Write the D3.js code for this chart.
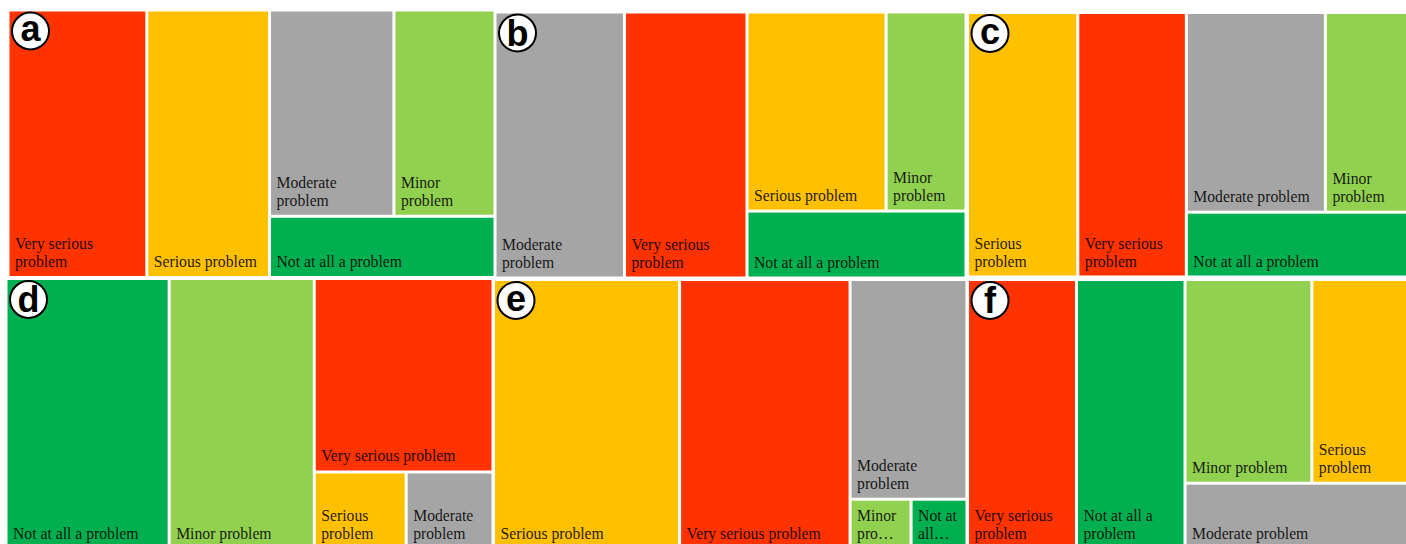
<!DOCTYPE html>
<html>
<head>
<meta charset="utf-8">
<script src="https://cdn.jsdelivr.net/npm/d3@7"></script>
<style>
  body { margin: 0; background: #fff; }
  svg { display: block; }
  .label { font-family: "Liberation Serif", "Times New Roman", serif; font-size: 15.7px; fill: #000; fill-opacity: 0.88; }
  .tag { font-family: "Liberation Sans", Arial, sans-serif; font-weight: bold; font-size: 36px; }
</style>
</head>
<body>
<svg width="1406" height="544"></svg>
<script>
var categories = ['Very serious problem', 'Serious problem', 'Moderate problem', 'Minor problem', 'Not at all a problem'];
var colors = ['#ff3300', '#ffc000', '#a5a5a5', '#92d050', '#00b050'];
var panelNames = ['a', 'b', 'c', 'd', 'e', 'f'];

// share of answers (%) per category, same order as categories
var valuesA = [28.5, 25.2, 19.7, 16.0, 10.6];
var valuesB = [26.0, 22.1, 27.5, 12.7, 11.7];
var valuesC = [24.5, 24.9, 23.7, 14.5, 12.4];
var valuesD = [26.2, 5.4, 5.1, 29.8, 33.5];
var valuesE = [36.0, 39.3, 20.1, 2.4, 2.2];
var valuesF = [24.6, 16.8, 12.5, 21.6, 24.5];
var panelValues = [valuesA, valuesB, valuesC, valuesD, valuesE, valuesF];

// where each small treemap sits on the page: x0, y0, x1, y1
var boxes = [
  [9.5, 11.5, 493.5, 276],
  [496.5, 13.5, 964.5, 276.5],
  [969, 14, 1409, 275.5],
  [7.5, 280, 491.5, 548],
  [495, 281, 965.5, 548],
  [969, 281, 1409, 548]
];

var svg = d3.select('svg');
var rho = 0.6; // preferred width/height of a box (upright boxes, like Excel)
var lineH = 18;

function rowScore(row, sum, total, dx, dy, wide) {
  var t = (wide ? dx : dy) * sum / total;
  return d3.max(row, function (d) {
    var len = (wide ? dy : dx) * d.value / sum;
    var r = wide ? t / len : len / t;
    return Math.max(r / rho, rho / r);
  });
}

// squarified layout, but rows are judged against an upright target ratio
function excelTile(parent, x0, y0, x1, y1) {
  var nodes = parent.children, total = parent.value, i0 = 0;
  while (i0 < nodes.length) {
    var dx = x1 - x0, dy = y1 - y0, wide = dx >= dy;
    var best = Infinity, sum = 0, i1 = i0;
    while (i1 < nodes.length) {
      var s = sum + nodes[i1].value;
      var score = rowScore(nodes.slice(i0, i1 + 1), s, total, dx, dy, wide);
      if (score > best) break;
      best = score; sum = s; i1++;
    }
    var row = {children: nodes.slice(i0, i1), value: sum};
    if (wide) {
      var xk = x0 + dx * sum / total;
      d3.treemapSlice(row, x0, y0, xk, y1);
      x0 = xk;
    } else {
      var yk = y0 + dy * sum / total;
      d3.treemapDice(row, x0, y0, x1, yk);
      y0 = yk;
    }
    total -= sum; i0 = i1;
  }
}

function wrapLabel(textEl, label, maxW, maxLines) {
  var measure = function (s) { textEl.text(s); return textEl.node().getComputedTextLength(); };
  var cutW = maxW - 2;
  var words = label.split(' ');
  var lines = [], cur = '';
  words.forEach(function (w) {
    var test = cur ? cur + ' ' + w : w;
    if (!cur || measure(test) <= maxW) cur = test;
    else { lines.push(cur); cur = w; }
  });
  if (cur) lines.push(cur);

  var out = [];
  for (var i = 0; i < lines.length && out.length < maxLines; i++) {
    var last = out.length === maxLines - 1;
    if ((last && i < lines.length - 1) || measure(lines[i]) > maxW) {
      var rest = lines.slice(i).join(' ');
      while (rest.length > 1 && measure(rest.trim() + '\u2026') > cutW) rest = rest.slice(0, -1);
      out.push(rest.trim() + '\u2026');
      break;
    }
    out.push(lines[i]);
  }
  textEl.text('');
  return out;
}

panelNames.forEach(function (name, pi) {
  var b = boxes[pi];
  var w = b[2] - b[0], h = b[3] - b[1];

  var root = d3.hierarchy({children: categories.map(function (c, i) {
      return {name: c, color: colors[i], value: panelValues[pi][i]};
    })})
    .sum(function (d) { return d.value || 0; })
    .sort(function (p, q) { return q.value - p.value; });

  d3.treemap().size([w, h]).paddingInner(3).tile(excelTile)(root);

  var g = svg.append('g').attr('transform', 'translate(' + b[0] + ',' + b[1] + ')');

  var cells = g.selectAll('g.cell')
    .data(root.leaves())
    .enter()
    .append('g')
    .attr('class', 'cell');

  cells.append('rect')
    .attr('x', function (d) { return d.x0; })
    .attr('y', function (d) { return d.y0; })
    .attr('width', function (d) { return d.x1 - d.x0; })
    .attr('height', function (d) { return d.y1 - d.y0; })
    .attr('fill', function (d) { return d.data.color; });

  cells.each(function (d) {
    var t = d3.select(this).append('text').attr('class', 'label');
    var cw = d.x1 - d.x0, ch = d.y1 - d.y0;
    var maxLines = Math.max(1, Math.floor((ch - 4) / lineH));
    var lines = wrapLabel(t, d.data.name, cw - 13, maxLines);
    var yLast = d.y1 - 9;
    lines.forEach(function (s, i) {
      t.append('tspan')
        .attr('x', d.x0 + 5.5)
        .attr('y', yLast - (lines.length - 1 - i) * lineH)
        .text(s);
    });
  });

  // panel letter in a circle
  g.append('circle')
    .attr('cx', 21)
    .attr('cy', 19.5)
    .attr('r', 18.5)
    .attr('fill', '#fff')
    .attr('stroke', '#000')
    .attr('stroke-width', 2);

  g.append('text')
    .attr('class', 'tag')
    .attr('x', 21)
    .attr('y', 19.5 + (/[bdf]/.test(name) ? 12.5 : 10))
    .attr('text-anchor', 'middle')
    .text(name);
});
</script>
</body>
</html>
